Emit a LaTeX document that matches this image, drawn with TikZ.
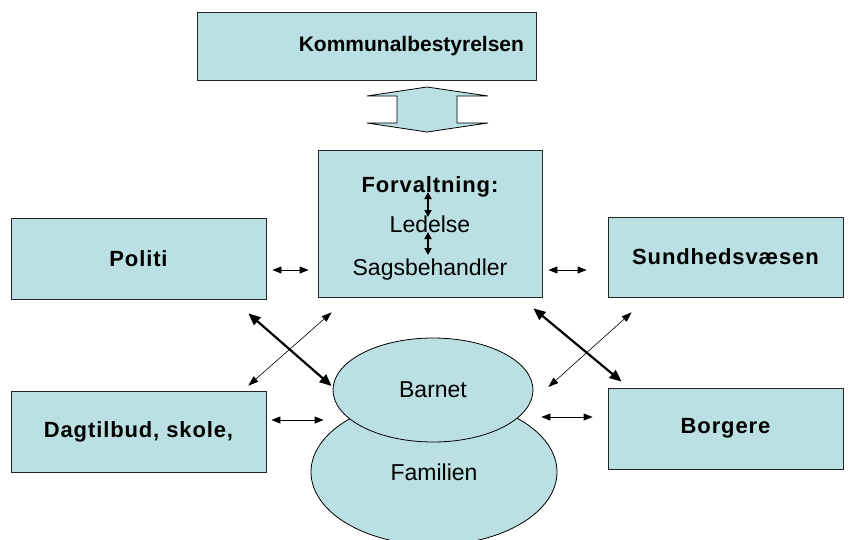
\documentclass[tikz,border=0pt]{standalone}
\usepackage{fontspec}
\setmainfont{Liberation Sans}
\newfontfamily\spacedfont{Liberation Sans}[LetterSpace=4]
\usetikzlibrary{arrows.meta,shapes.geometric}
\definecolor{boxblue}{RGB}{187,224,227}

\begin{document}
\begin{tikzpicture}
	[x=1pt,y=-1pt,
	box/.style={draw=black!85,line width=0.8pt,fill=boxblue,inner sep=0pt,font=\spacedfont\fontsize{22}{26}\selectfont\bfseries},
	oval/.style={ellipse,draw=black,line width=0.8pt,fill=boxblue,inner sep=0pt,font=\fontsize{23}{27}\selectfont},
	word/.style={anchor=base,inner sep=0pt,font=\fontsize{23}{27}\selectfont},
	edge/.style={<->,>={Triangle[length=9pt,width=7pt]},line width=0.8pt},
	thinedge/.style={<->,>={Triangle[length=10pt,width=7pt]},line width=0.6pt},
	thickedge/.style={<->,>={Triangle[length=12pt,width=10pt]},line width=2.2pt},
	innerarrow/.style={<->,>={Triangle[length=7pt,width=7pt]},line width=1.8pt}]
	\useasboundingbox (0,0) rectangle (853,540);
	
	\node[box,minimum height=68pt,text width=315pt,inner xsep=12pt,align=right,font=\fontsize{21}{25}\selectfont\bfseries] (kom) at (366.5,46) {Kommunalbestyrelsen};
	\draw[line width=0.8pt,fill=boxblue] (367,96) -- (427,87) -- (488,96) -- (457,96) -- (457,123) -- (488,123) -- (427,132) -- (367,123) -- (397,123) -- (397,96) -- cycle;
	
	\node[box,minimum width=224pt,minimum height=147pt] (forv) at (430,223.5) {};
	\node[word,font=\spacedfont\fontsize{22}{26}\selectfont\bfseries] (ft) at (430,193) {Forvaltning:};
	\node[word] (led) at (430,232) {Ledelse};
	\node[word] (sag) at (430,275) {Sagsbehandler};
	
	\node[box,minimum width=255pt,minimum height=81pt] (pol) at (138.5,258.5) {Politi};
	\node[box,minimum width=235pt,minimum height=80pt] (sund) at (725.5,257) {Sundhedsvæsen};
	\node[box,minimum width=255pt,minimum height=81pt] (dag) at (138.5,431.5) {Dagtilbud, skole,};
	\node[box,minimum width=235pt,minimum height=81pt] (borg) at (725.5,428.5) {Borgere};
	
	\node[oval,minimum width=246pt,minimum height=146pt] (fam) at (434,472) {Familien};
	\node[oval,minimum width=200pt,minimum height=104pt] (bar) at (433,390) {Barnet};
	
	\draw[innerarrow] ([xshift=-2pt,yshift=1pt]ft.base) -- ([xshift=-2pt,yshift=15pt]led.base);
	\draw[innerarrow] ([xshift=-2pt]led.base) -- ([xshift=-2pt,yshift=20pt]sag.base);
	
	\draw[edge,shorten <=6pt,shorten >=9pt] ([yshift=-11.5pt]pol.east) -- ([yshift=-46.5pt]forv.west);
	\draw[edge,shorten <=6pt,shorten >=21pt] ([yshift=-46.5pt]forv.east) -- ([yshift=-13pt]sund.west);
	\draw[edge,shorten <=5pt,shorten >=9pt] ([yshift=11.5pt]dag.east) -- ([yshift=-30pt]bar.west);
	\draw[edge,shorten <=8pt,shorten >=15pt] ([yshift=-27pt]bar.east) -- ([yshift=11.5pt]borg.west);
	
	\draw[thickedge] ([xshift=-18pt,yshift=-14pt]pol.south east) -- ([xshift=-1pt,yshift=4pt]bar.west);
	\draw[thinedge] ([xshift=14pt,yshift=-15pt]forv.south west) -- ([xshift=-18pt,yshift=5pt]dag.north east);
	\draw[thickedge] ([xshift=-9pt,yshift=-11pt]forv.south east) -- ([xshift=14pt,yshift=6pt]borg.north west);
	\draw[thinedge] ([xshift=24pt,yshift=-15pt]sund.south west) -- ([xshift=15pt,yshift=3pt]bar.east);
\end{tikzpicture}
\end{document}
